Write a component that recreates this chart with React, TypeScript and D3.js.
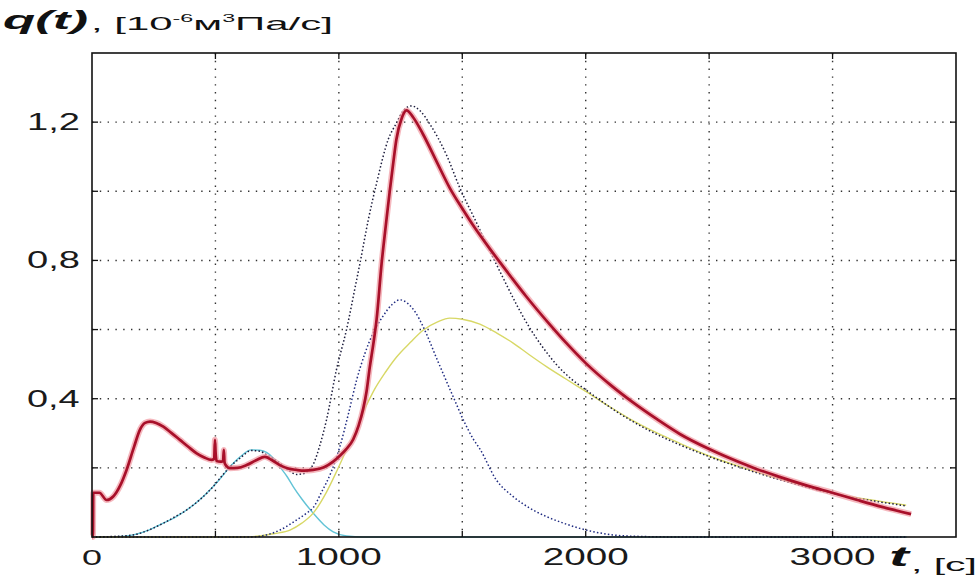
import React, { useLayoutEffect, useRef } from 'react';
import * as d3 from 'd3';

const W = 979;
const H = 580;
const PLOT = { left: 92, right: 956, top: 53, bottom: 537 };

const xGrid = [500, 1000, 1500, 2000, 2500, 3000];
const yGrid = [0.2, 0.4, 0.6, 0.8, 1.0, 1.2];
const xLabelValues = [0, 1000, 2000, 3000];
const xLabelTexts = ['0', '1000', '2000', '3000'];
const yLabelValues = [0.4, 0.8, 1.2];
const yLabelTexts = ['0,4', '0,8', '1,2'];

// measured total (thick red)
const measured: [number, number][] = [
  [0, 0], [4, 0], [5, 0.128], [30, 0.128], [59, 0.107], [86, 0.117], [115, 0.15], [140, 0.194],
  [170, 0.26], [194, 0.31], [215, 0.33], [235, 0.334], [260, 0.33], [289, 0.319], [320, 0.302],
  [356, 0.281], [390, 0.261], [424, 0.242], [455, 0.23], [484, 0.223], [495, 0.226], [498, 0.281],
  [501, 0.24], [505, 0.22], [520, 0.218], [531, 0.22], [534, 0.252], [537, 0.215], [545, 0.205],
  [559, 0.199], [590, 0.2], [626, 0.208], [665, 0.222], [700, 0.232], [730, 0.222], [761, 0.208],
  [795, 0.198], [829, 0.194], [860, 0.192], [896, 0.194], [940, 0.202], [977, 0.218], [1004, 0.235],
  [1030, 0.254], [1058, 0.282], [1080, 0.322], [1099, 0.372], [1112, 0.42], [1125, 0.49],
  [1140, 0.56], [1153, 0.63], [1173, 0.79], [1190, 0.9], [1206, 1.0], [1220, 1.08], [1233, 1.15],
  [1255, 1.212], [1274, 1.234], [1300, 1.215], [1341, 1.165], [1400, 1.08], [1449, 1.01],
  [1500, 0.95], [1550, 0.895], [1600, 0.845], [1652, 0.795], [1700, 0.75], [1760, 0.695],
  [1854, 0.615], [1920, 0.562], [2000, 0.503], [2100, 0.44], [2190, 0.39], [2290, 0.34],
  [2381, 0.298], [2498, 0.255], [2623, 0.216], [2691, 0.197], [2785, 0.174], [2900, 0.148],
  [2999, 0.128], [3100, 0.107], [3200, 0.087], [3318, 0.066],
];

// model total (dark dotted)
const modelTotal: [number, number][] = [
  [0, 0], [100, 0.002], [167, 0.006], [230, 0.02], [289, 0.04], [340, 0.06], [383, 0.078],
  [440, 0.11], [491, 0.146], [530, 0.18], [559, 0.203], [600, 0.228], [646, 0.25], [680, 0.248],
  [707, 0.238], [735, 0.226], [761, 0.214], [802, 0.19], [829, 0.181], [855, 0.183], [880, 0.195],
  [896, 0.21], [923, 0.265], [950, 0.339], [990, 0.483], [1031, 0.6], [1072, 0.744], [1085, 0.79],
  [1120, 0.92], [1153, 1.024], [1200, 1.15], [1233, 1.197], [1260, 1.232], [1294, 1.247],
  [1330, 1.232], [1368, 1.195], [1436, 1.105], [1490, 1.01], [1557, 0.91], [1610, 0.83],
  [1665, 0.75], [1720, 0.672], [1773, 0.605], [1830, 0.545], [1880, 0.5], [1940, 0.458],
  [2002, 0.425], [2120, 0.365], [2246, 0.312], [2380, 0.267], [2498, 0.233], [2640, 0.198],
  [2785, 0.166], [2900, 0.143], [3000, 0.125], [3150, 0.106], [3298, 0.09],
];

// blue dotted component
const blueComp: [number, number][] = [
  [0, 0], [650, 0], [700, 0.005], [761, 0.02], [820, 0.045], [869, 0.069], [896, 0.085],
  [930, 0.13], [970, 0.19], [1004, 0.261], [1040, 0.36], [1072, 0.454], [1105, 0.53],
  [1139, 0.59], [1180, 0.64], [1215, 0.672], [1247, 0.686], [1280, 0.675], [1310, 0.65],
  [1341, 0.609], [1400, 0.51], [1463, 0.406], [1510, 0.33], [1544, 0.284], [1571, 0.255],
  [1638, 0.165], [1706, 0.117], [1770, 0.085], [1841, 0.059], [1910, 0.04], [1976, 0.025],
  [2040, 0.014], [2110, 0.006], [2200, 0.002], [2400, 0], [3300, 0],
];

// yellow component
const yellowComp: [number, number][] = [
  [0, 0], [600, 0], [680, 0.003], [740, 0.01], [802, 0.02], [850, 0.04], [896, 0.069],
  [950, 0.13], [997, 0.199], [1030, 0.25], [1072, 0.31], [1105, 0.37], [1139, 0.42],
  [1190, 0.478], [1233, 0.52], [1290, 0.563], [1341, 0.598], [1400, 0.622], [1449, 0.633],
  [1500, 0.63], [1571, 0.616], [1640, 0.59], [1706, 0.561], [1770, 0.528], [1841, 0.493],
  [1920, 0.457], [2000, 0.421], [2090, 0.38], [2178, 0.342], [2280, 0.304], [2381, 0.271],
  [2498, 0.235], [2640, 0.2], [2785, 0.168], [2900, 0.146], [3000, 0.127], [3150, 0.108],
  [3298, 0.092],
];

// cyan component
const cyanComp: [number, number][] = [
  [0, 0], [100, 0.001], [167, 0.006], [230, 0.02], [289, 0.04], [340, 0.058], [383, 0.078],
  [440, 0.11], [491, 0.146], [530, 0.178], [559, 0.203], [600, 0.232], [646, 0.252],
  [680, 0.251], [707, 0.245], [735, 0.228], [761, 0.203], [790, 0.175], [815, 0.146],
  [850, 0.11], [896, 0.069], [940, 0.035], [977, 0.015], [1031, 0.003], [1100, 0], [3300, 0],
];

const x = d3.scaleLinear().domain([0, 3500]).range([PLOT.left, PLOT.right]);
const y = d3.scaleLinear().domain([0, 1.4]).range([PLOT.bottom, PLOT.top]);
const line = d3
  .line<[number, number]>()
  .x((d) => x(d[0]))
  .y((d) => y(d[1]))
  .curve(d3.curveMonotoneX);

const FONT = "'Liberation Sans', Arial, sans-serif";

function Fit({
  px,
  py,
  width,
  anchor = 'start',
  children,
}: {
  px: number;
  py: number;
  width: number;
  anchor?: 'start' | 'middle' | 'end';
  children: React.ReactNode;
}) {
  const ref = useRef<SVGGElement>(null);
  useLayoutEffect(() => {
    const g = ref.current;
    if (!g) return;
    const inner = g.firstElementChild as SVGGraphicsElement;
    const bb = inner.getBBox();
    if (!bb.width) return;
    const s = width / bb.width;
    let tx = px - bb.x * s;
    if (anchor === 'middle') tx = px - (bb.x + bb.width / 2) * s;
    if (anchor === 'end') tx = px - (bb.x + bb.width) * s;
    g.setAttribute('transform', `translate(${tx},${py}) scale(${s},1)`);
  });
  return (
    <g ref={ref} transform={`translate(${px},${py})`}>
      <g>{children}</g>
    </g>
  );
}

export default function App() {
  const tick = 6;
  return (
    <svg
      width={W}
      height={H}
      style={{ position: 'fixed', left: 0, top: 0, background: '#fff' }}
      fontFamily={FONT}
    >
      <rect x={0} y={0} width={W} height={H} fill="#fff" />
      {/* grid */}
      <g stroke="#333" strokeWidth={1.4} strokeDasharray="1.4,6.4">
        {xGrid.map((t) => (
          <line key={'gx' + t} x1={x(t)} x2={x(t)} y1={PLOT.top} y2={PLOT.bottom} />
        ))}
        {yGrid.map((v) => (
          <line key={'gy' + v} x1={PLOT.left} x2={PLOT.right} y1={y(v)} y2={y(v)} />
        ))}
      </g>
      {/* curves */}
      <path d={line(cyanComp) || ''} fill="none" stroke="#62c3d6" strokeWidth={1.4} />
      <path d={line(yellowComp) || ''} fill="none" stroke="#d8d866" strokeWidth={1.4} />
      <path
        d={line(blueComp) || ''}
        fill="none"
        stroke="#1e2a80"
        strokeWidth={1.5}
        strokeDasharray="1.5,2.2"
      />
      <path
        d={line(modelTotal) || ''}
        fill="none"
        stroke="#1c1c3c"
        strokeWidth={1.5}
        strokeDasharray="1.5,2.2"
      />
      <path
        d={line(measured) || ''}
        fill="none"
        stroke="#f2a0a8"
        strokeOpacity={0.75}
        strokeWidth={6}
        strokeLinejoin="round"
      />
      <path
        d={line(measured) || ''}
        fill="none"
        stroke="#a8102a"
        strokeWidth={2.7}
        strokeLinejoin="round"
      />
      {/* frame */}
      <rect
        x={PLOT.left}
        y={PLOT.top}
        width={PLOT.right - PLOT.left}
        height={PLOT.bottom - PLOT.top}
        fill="none"
        stroke="#111"
        strokeWidth={1.6}
      />
      <g stroke="#111" strokeWidth={1.3}>
        {xGrid.map((t) => (
          <g key={'tx' + t}>
            <line x1={x(t)} x2={x(t)} y1={PLOT.bottom} y2={PLOT.bottom - tick} />
            <line x1={x(t)} x2={x(t)} y1={PLOT.top} y2={PLOT.top + tick} />
          </g>
        ))}
        {yGrid.map((v) => (
          <g key={'ty' + v}>
            <line x1={PLOT.left} x2={PLOT.left + tick} y1={y(v)} y2={y(v)} />
            <line x1={PLOT.right} x2={PLOT.right - tick} y1={y(v)} y2={y(v)} />
          </g>
        ))}
      </g>
      {/* x labels */}
      {xLabelValues.map((t, i) => (
        <Fit
          key={'xl' + t}
          px={x(t)}
          py={565}
          width={xLabelTexts[i].length === 1 ? 20 : 86}
          anchor="middle"
        >
          <text fontSize={23} fill="#1a1a1a">
            {xLabelTexts[i]}
          </text>
        </Fit>
      ))}
      {/* y labels */}
      {yLabelValues.map((v, i) => (
        <Fit key={'yl' + v} px={80} py={y(v) + 8} width={53} anchor="end">
          <text fontSize={23} fill="#1a1a1a">
            {yLabelTexts[i]}
          </text>
        </Fit>
      ))}
      {/* y title */}
      <Fit px={3} py={29} width={85}>
        <text fontSize={25} fontWeight="bold" fontStyle="italic" fill="#111">
          q(t)
        </text>
      </Fit>
      <Fit px={91} py={30} width={242}>
        <text fontSize={18} fill="#111">
          {', [10'}
          <tspan fontSize={10} dy={-8}>
            -6
          </tspan>
          <tspan dy={8}>м</tspan>
          <tspan fontSize={10} dy={-8}>
            3
          </tspan>
          <tspan dy={8}>Па/с]</tspan>
        </text>
      </Fit>
      {/* x title */}
      <Fit px={889} py={566} width={22}>
        <text fontSize={27} fontWeight="bold" fontStyle="italic" fill="#111">
          t
        </text>
      </Fit>
      <Fit px={911} py={571} width={66}>
        <text fontSize={18} fill="#111">
          , [c]
        </text>
      </Fit>
    </svg>
  );
}
